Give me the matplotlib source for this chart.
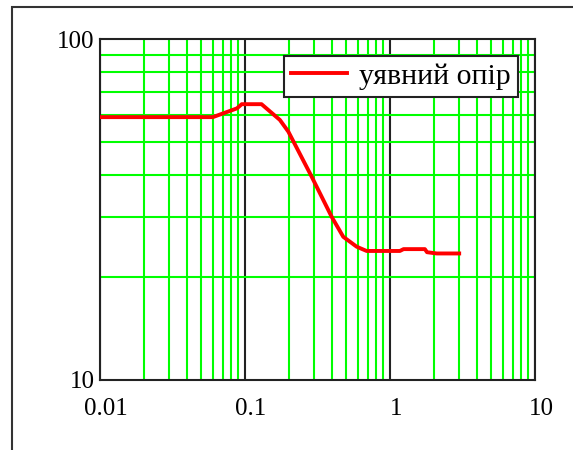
import matplotlib
matplotlib.use("Agg")
import matplotlib.pyplot as plt
import matplotlib.transforms as mtransforms
from matplotlib.patches import Rectangle
from matplotlib.ticker import LogLocator, NullFormatter, FixedLocator

# Частота та уявний опір (логарифмічні осі)
freq = [0.01, 0.06, 0.069, 0.088, 0.095, 0.13, 0.174, 0.199, 0.288, 0.396,
        0.476, 0.589, 0.69, 1.17, 1.24, 1.74, 1.8, 2.1, 3.0]
reactance = [59.0, 59.0, 60.3, 62.6, 64.4, 64.4, 57.9, 53.5, 39.5, 30.1,
             26.3, 24.6, 23.9, 23.9, 24.2, 24.2, 23.7, 23.5, 23.5]

x_ticks = [0.01, 0.1, 1, 10]
x_tick_labels = ["0.01", "0.1", "1", "10"]
y_ticks = [10, 100]
y_tick_labels = ["10", "100"]
legend_label = "уявний опір"

plt.rcParams["font.family"] = ["Liberation Serif", "DejaVu Serif"]
plt.rcParams["font.size"] = 18


def plot_reactance():
    fig = plt.figure(figsize=(5.73, 4.5), dpi=100)
    ax = fig.add_axes([100 / 573, 1 - 380 / 450, 435 / 573, 341 / 450])

    # рамка навколо всього графіка
    fig.patches.append(Rectangle((12 / 573, -0.1), 1.2, 1.1 - 7 / 450,
                                 transform=fig.transFigure, fill=False,
                                 edgecolor="#333333", lw=1.5))

    ax.set_xscale("log")
    ax.set_yscale("log")
    ax.set_xlim(0.01, 10)
    ax.set_ylim(10, 100)

    ax.xaxis.set_major_locator(FixedLocator(x_ticks))
    ax.yaxis.set_major_locator(FixedLocator(y_ticks))
    ax.set_xticklabels(x_tick_labels)
    ax.set_yticklabels(y_tick_labels)
    ax.xaxis.set_minor_locator(LogLocator(base=10, subs=range(2, 10), numticks=20))
    ax.yaxis.set_minor_locator(LogLocator(base=10, subs=range(2, 10), numticks=20))
    ax.xaxis.set_minor_formatter(NullFormatter())
    ax.yaxis.set_minor_formatter(NullFormatter())
    ax.tick_params(which="both", length=0)
    ax.tick_params(axis="x", pad=13)
    ax.tick_params(axis="y", pad=4)

    # підписи осі X трохи зсунуті праворуч
    offset = mtransforms.ScaledTranslation(6 / 100, 0, fig.dpi_scale_trans)
    for lbl in ax.get_xticklabels():
        lbl.set_transform(lbl.get_transform() + offset)

    ax.grid(which="minor", color="#00ff00", lw=1.5)
    ax.grid(which="major", axis="x", color="#222222", lw=1.5)
    ax.set_axisbelow(True)
    for sp in ax.spines.values():
        sp.set_color("#222222")
        sp.set_linewidth(1.5)

    ax.plot(freq, reactance, color="red", lw=2.8, label=legend_label, zorder=3)

    leg = ax.legend(loc="upper right", bbox_to_anchor=(0.961, 0.951),
                    borderaxespad=0, fancybox=False, framealpha=1,
                    fontsize=21.5, handlelength=1.85, handletextpad=0.42,
                    borderpad=0.24)
    leg.get_frame().set_edgecolor("#222222")
    leg.get_frame().set_linewidth(1.5)

    fig.savefig("out.png", dpi=100)
    plt.close(fig)


plot_reactance()
